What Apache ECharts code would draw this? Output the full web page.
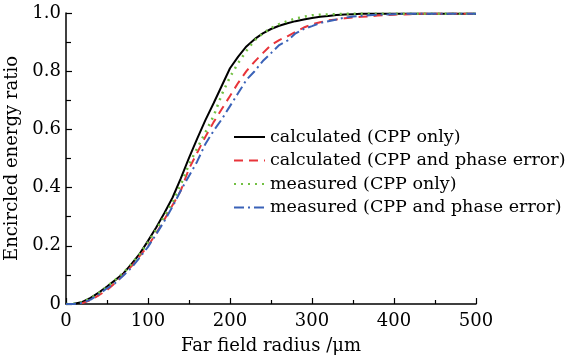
<!DOCTYPE html>
<html>
<head>
<meta charset="utf-8">
<script src="https://cdn.jsdelivr.net/npm/echarts@6/dist/echarts.min.js"></script>
<style>
  html, body { margin: 0; padding: 0; background: #fff; }
  #chart { width: 576px; height: 360px; }
</style>
</head>
<body>
<div id="chart"></div>
<script>
// far field radius (um)
const radius = [0, 10, 20, 30, 40, 50, 60, 70, 80, 90, 100, 110, 120, 130, 140, 150, 160, 170, 180, 190,
  200, 210, 220, 230, 240, 250, 260, 270, 280, 290, 300, 310, 320, 330, 340, 350, 360, 370, 380, 390,
  400, 410, 420, 430, 440, 450, 460, 470, 480, 490, 500]

const calcCppOnly = [0, 0.001, 0.007, 0.021, 0.039, 0.06, 0.082, 0.105, 0.138, 0.173,
  0.217, 0.263, 0.313, 0.366, 0.432, 0.502, 0.568, 0.632, 0.69, 0.75,
  0.81, 0.85, 0.885, 0.91, 0.93, 0.945, 0.956, 0.965, 0.972, 0.978,
  0.983, 0.987, 0.99, 0.993, 0.995, 0.996, 0.997, 0.997, 0.997, 0.997,
  0.997, 0.997, 0.997, 0.997, 0.997, 0.997, 0.997, 0.997, 0.997, 0.997, 0.997]

const calcCppPhase = [0, 0, 0.003, 0.013, 0.03, 0.048, 0.072, 0.1, 0.13, 0.165,
  0.2, 0.243, 0.29, 0.34, 0.39, 0.465, 0.52, 0.575, 0.625, 0.67,
  0.715, 0.76, 0.8, 0.833, 0.862, 0.89, 0.907, 0.92, 0.935, 0.95,
  0.961, 0.968, 0.975, 0.978, 0.982, 0.985, 0.987, 0.988, 0.991, 0.993,
  0.994, 0.995, 0.996, 0.997, 0.997, 0.997, 0.997, 0.997, 0.997, 0.997, 0.997]

const measCppOnly = [0, 0.001, 0.006, 0.02, 0.038, 0.06, 0.083, 0.107, 0.138, 0.172,
  0.212, 0.256, 0.302, 0.35, 0.41, 0.48, 0.535, 0.59, 0.646, 0.72,
  0.78, 0.828, 0.87, 0.906, 0.93, 0.948, 0.962, 0.972, 0.981, 0.987,
  0.992, 0.994, 0.995, 0.996, 0.997, 0.997, 0.997, 0.997, 0.997, 0.997,
  0.997, 0.997, 0.997, 0.997, 0.997, 0.997, 0.997, 0.997, 0.997, 0.997, 0.997]

const measCppPhase = [0, 0, 0.004, 0.015, 0.033, 0.054, 0.072, 0.098, 0.125, 0.16,
  0.196, 0.24, 0.285, 0.335, 0.39, 0.44, 0.49, 0.55, 0.595, 0.635,
  0.68, 0.725, 0.77, 0.8, 0.835, 0.862, 0.89, 0.905, 0.93, 0.945,
  0.955, 0.966, 0.972, 0.978, 0.984, 0.988, 0.99, 0.992, 0.994, 0.995,
  0.996, 0.997, 0.997, 0.997, 0.997, 0.997, 0.997, 0.997, 0.997, 0.997, 0.997]

const seriesNames = [
  'calculated (CPP only)',
  'calculated (CPP and phase error)',
  'measured (CPP only)',
  'measured (CPP and phase error)',
]

const font = 'DejaVu Serif'

function pairs(ys) {
  return radius.map((r, i) => [r, ys[i]])
}

function lineSeries(name, data, color, type, width) {
  return {
    name,
    type: 'line',
    data: pairs(data),
    symbol: 'none',
    lineStyle: { color, width: width || 2, type },
    itemStyle: { color },
  }
}

const myChart = echarts.init(document.getElementById('chart'))
myChart.setOption({
  backgroundColor: '#fff',
  animation: false,
  textStyle: { fontFamily: font, color: '#000' },
  grid: { left: 66, right: 100, top: 13, bottom: 56, containLabel: false, outerBoundsMode: 'none' },
  legend: {
    orient: 'vertical',
    left: 233,
    top: 128,
    padding: 0,
    itemWidth: 31,
    itemHeight: 12,
    itemGap: 5.5,
    itemStyle: { color: 'transparent', borderColor: 'transparent', borderWidth: 0 },
    textStyle: { fontFamily: font, fontSize: 17.5, color: '#000' },
    data: seriesNames,
  },
  xAxis: {
    type: 'value',
    min: 0,
    max: 500,
    interval: 100,
    name: 'Far field radius /\u03bcm',
    nameLocation: 'middle',
    nameGap: 33,
    nameTextStyle: { fontFamily: font, fontSize: 18, color: '#000' },
    axisLine: { lineStyle: { color: '#000', width: 1.5 } },
    axisTick: { inside: true, length: 6, lineStyle: { color: '#000', width: 1.2 } },
    minorTick: { show: true, splitNumber: 2, length: 4, lineStyle: { color: '#000', width: 1.2 } },
    splitLine: { show: false },
    axisLabel: { fontFamily: font, fontSize: 18, color: '#000', margin: 8 },
  },
  yAxis: {
    type: 'value',
    min: 0,
    max: 1,
    interval: 0.2,
    name: 'Encircled energy ratio',
    nameLocation: 'middle',
    nameGap: 38,
    nameTextStyle: { fontFamily: font, fontSize: 18, color: '#000' },
    axisLine: { show: true, lineStyle: { color: '#000', width: 1.5 } },
    axisTick: { show: true, inside: true, length: 6, lineStyle: { color: '#000', width: 1.2 } },
    minorTick: { show: true, splitNumber: 2, length: 5, lineStyle: { color: '#000', width: 1.2 } },
    splitLine: { show: false },
    axisLabel: {
      fontFamily: font,
      fontSize: 18,
      color: '#000',
      margin: 5,
      formatter: v => (v === 0 ? '0' : v.toFixed(1)),
    },
  },
  series: [
    lineSeries(seriesNames[0], calcCppOnly, '#000000', 'solid'),
    lineSeries(seriesNames[1], calcCppPhase, '#e8343a', [9, 6]),
    lineSeries(seriesNames[2], measCppOnly, '#72c043', [2, 5], 2.5),
    lineSeries(seriesNames[3], measCppPhase, '#3a62b8', [10, 4, 2, 4]),
  ],
})
</script>
</body>
</html>
